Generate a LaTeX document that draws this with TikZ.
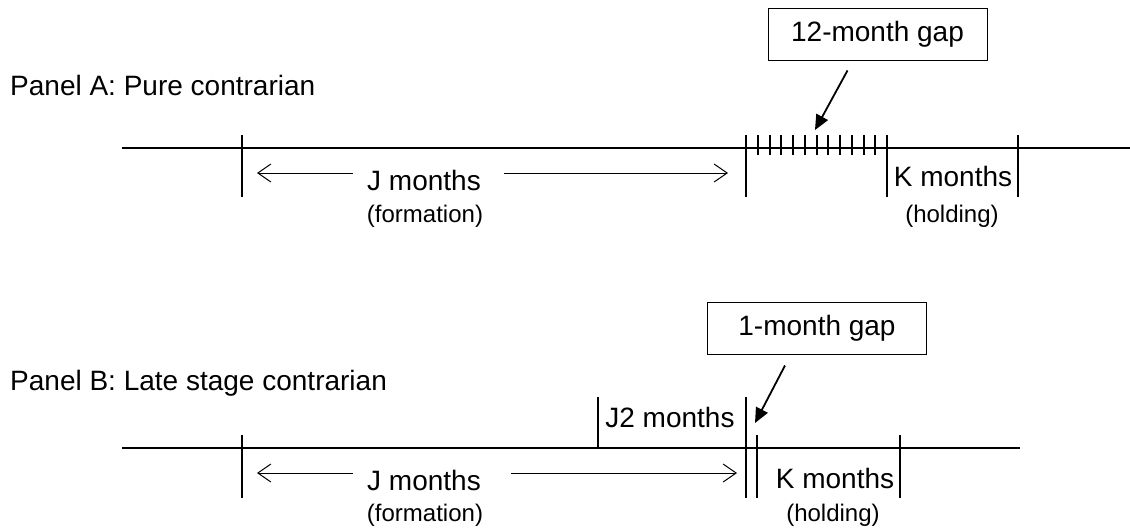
\documentclass[tikz,border=0pt]{standalone}
\usepackage{fontspec}
\setmainfont{Liberation Sans}
\usepackage{tikz}
\usetikzlibrary{arrows.meta,positioning}

\begin{document}
\begin{tikzpicture}[x=1pt,y=-1pt,
    axis/.style={line width=2pt},
    tk/.style={line width=2pt},
    minortk/.style={line width=2pt},
    span/.style={line width=1pt,-{Straight Barb[length=13pt,width=18pt]}},
    gapbox/.style={draw,line width=1pt,minimum width=219pt,minimum height=52pt,inner sep=0pt},
    pointer/.style={line width=1.8pt,-{Triangle[length=15pt,width=13pt]}},
    big/.style={font=\fontsize{28}{32}\selectfont,inner sep=0pt},
    small/.style={font=\fontsize{24}{28}\selectfont,inner sep=0pt}]
    \useasboundingbox (0,0) rectangle (1130,531);

    % Panel A: pure contrarian
    \node[big,anchor=base west] (titleA) at (10,95) {Panel A: Pure contrarian};
    \draw[axis] (122,148) -- (1130,148);
    \foreach \x in {242,746,887,1018} \draw[tk] (\x,135) -- (\x,197);
    \foreach \k in {1,...,11} \draw[minortk] (746+\k*11.75,135) -- (746+\k*11.75,155);

    \node[big,anchor=base] (jA) at (424,190) {J months};
    \node[small,anchor=base] (formA) at (425,222) {(formation)};
    \node[big,anchor=base] (kA) at (953,186) {K months};
    \node[small,anchor=base] (holdA) at (952,222) {(holding)};
    \coordinate (jAl) at (257,173);
    \coordinate (jAr) at (728,173);
    \draw[span] ([xshift=-14pt]jA.west |- jAl) -- (jAl);
    \draw[span] ([xshift=23pt]jA.east |- jAr) -- (jAr);

    \node[gapbox,big] (gapA) at (877.5,34) {12-month gap};
    \coordinate (gapAtip) at (815,130);
    \draw[pointer] ([xshift=-30pt,yshift=-10pt]gapA.south) -- (gapAtip);

    % Panel B: late stage contrarian
    \node[big,anchor=base west] (titleB) at (10,390) {Panel B: Late stage contrarian};
    \draw[axis] (122,448) -- (1020,448);
    \foreach \x in {242,757,900} \draw[tk] (\x,435) -- (\x,498);
    \draw[tk] (598,397) -- (598,448);
    \draw[tk] (746,397) -- (746,498);

    \node[big,anchor=base] (j2B) at (670,427) {J2 months};
    \node[big,anchor=base] (jB) at (424,490) {J months};
    \node[small,anchor=base] (formB) at (425,521) {(formation)};
    \node[big,anchor=base] (kB) at (835,488) {K months};
    \node[small,anchor=base] (holdB) at (833,521) {(holding)};
    \coordinate (jBl) at (257,473);
    \coordinate (jBr) at (737,473);
    \draw[span] ([xshift=-14pt]jB.west |- jBl) -- (jBl);
    \draw[span] ([xshift=30pt]jB.east |- jBr) -- (jBr);

    \node[gapbox,big] (gapB) at (817,328) {1-month gap};
    \coordinate (gapBtip) at (755,423);
    \draw[pointer] ([xshift=-32pt,yshift=-11pt]gapB.south) -- (gapBtip);
\end{tikzpicture}
\end{document}
